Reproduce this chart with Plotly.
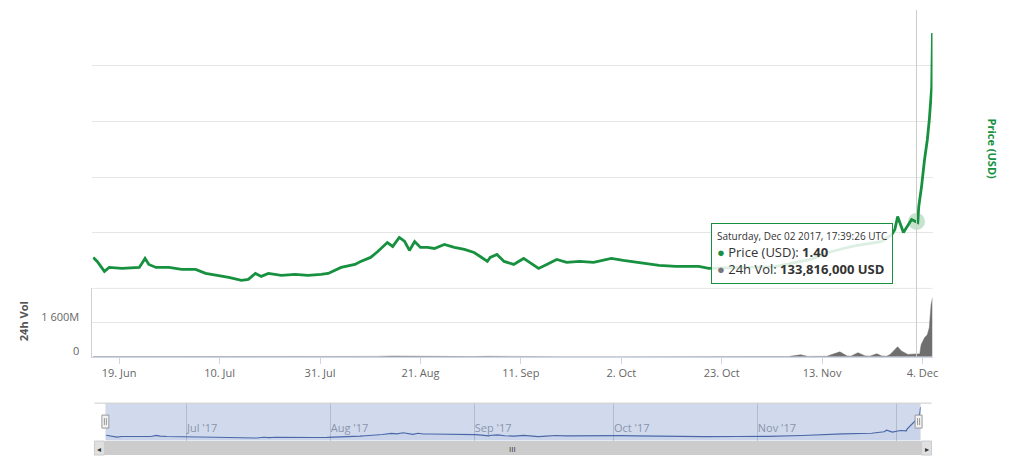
import plotly.graph_objects as go

# ---------------- data ----------------
price_dates = [
    "2017-06-13 14:00", "2017-06-14 10:00", "2017-06-15 22:00", "2017-06-16 22:00",
    "2017-06-19 14:00", "2017-06-23 05:00", "2017-06-24 10:00", "2017-06-25 05:00",
    "2017-06-26 17:00", "2017-06-29 10:00", "2017-07-02 02:00", "2017-07-05 00:00",
    "2017-07-07 02:00", "2017-07-09 19:00", "2017-07-11 22:00", "2017-07-14 14:00",
    "2017-07-16 00:00", "2017-07-17 12:00", "2017-07-18 17:00", "2017-07-20 05:00",
    "2017-07-22 22:00", "2017-07-25 19:00", "2017-07-28 12:00", "2017-07-31 05:00",
    "2017-08-01 17:00", "2017-08-04 10:00", "2017-08-07 07:00", "2017-08-08 12:00",
    "2017-08-10 14:00", "2017-08-12 02:00", "2017-08-14 02:00", "2017-08-15 05:00",
    "2017-08-16 14:00", "2017-08-17 17:00", "2017-08-18 17:00", "2017-08-19 19:00",
    "2017-08-21 00:00", "2017-08-22 12:00", "2017-08-23 22:00", "2017-08-26 00:00",
    "2017-08-28 02:00", "2017-08-30 05:00", "2017-09-01 05:00", "2017-09-02 12:00",
    "2017-09-04 00:00", "2017-09-04 14:00", "2017-09-06 00:00", "2017-09-07 12:00",
    "2017-09-09 12:00", "2017-09-11 14:00", "2017-09-12 22:00", "2017-09-14 17:00",
    "2017-09-16 10:00", "2017-09-18 12:00", "2017-09-20 14:00", "2017-09-23 07:00",
    "2017-09-26 05:00", "2017-09-29 22:00", "2017-10-02 10:00", "2017-10-05 17:00",
    "2017-10-09 22:00", "2017-10-13 10:00", "2017-10-18 05:00", "2017-10-20 07:00",
    "2017-10-27 10:00", "2017-11-03 05:00", "2017-11-10 14:00", "2017-11-14 05:00",
    "2017-11-19 05:00", "2017-11-25 12:00", "2017-11-27 14:00", "2017-11-28 05:00",
    "2017-11-28 19:00", "2017-11-30 00:00", "2017-12-01 17:00", "2017-12-02 17:39",
    "2017-12-03 00:00", "2017-12-03 05:00", "2017-12-03 19:00", "2017-12-04 10:00",
    "2017-12-05 00:00", "2017-12-05 10:00", "2017-12-05 22:00", "2017-12-06 02:00",
]
price_usd = [
    0.756, 0.684, 0.505, 0.576,
    0.558, 0.576, 0.738, 0.630,
    0.576, 0.576, 0.541, 0.541,
    0.469, 0.433, 0.397, 0.343,
    0.361, 0.469, 0.415, 0.469,
    0.433, 0.451, 0.433, 0.451,
    0.469, 0.576, 0.630, 0.684,
    0.756, 0.863, 1.024, 0.953,
    1.114, 1.042, 0.881, 1.042,
    0.935, 0.935, 0.917, 0.989,
    0.935, 0.899, 0.845, 0.773,
    0.684, 0.756, 0.809, 0.684,
    0.630, 0.738, 0.666, 0.558,
    0.630, 0.720, 0.666, 0.684,
    0.666, 0.738, 0.702, 0.666,
    0.612, 0.594, 0.594, 0.558,
    0.576, 0.590, 0.720, 0.845,
    0.953, 1.042, 1.168, 1.257,
    1.490, 1.204, 1.437, 1.400,
    1.383, 1.670, 2.028, 2.512,
    2.870, 3.229, 3.820, 4.788,
]

vol_dates = [
    "2017-06-13 12:00", "2017-06-20", "2017-06-27", "2017-07-05", "2017-07-15",
    "2017-07-25", "2017-08-05", "2017-08-12", "2017-08-15", "2017-08-18",
    "2017-08-25", "2017-09-01", "2017-09-04", "2017-09-10", "2017-09-20",
    "2017-10-01", "2017-10-15", "2017-10-25", "2017-11-01", "2017-11-06",
    "2017-11-08 12:00", "2017-11-10", "2017-11-14", "2017-11-16 17:00", "2017-11-18 05:00",
    "2017-11-19", "2017-11-20 12:00", "2017-11-22", "2017-11-23", "2017-11-24 10:00",
    "2017-11-25 12:00", "2017-11-26 12:00", "2017-11-27 05:00", "2017-11-28 19:00",
    "2017-11-29 14:00", "2017-11-30 22:00", "2017-12-02 17:39", "2017-12-03 10:00",
    "2017-12-03 17:00", "2017-12-04 10:00", "2017-12-05 00:00", "2017-12-05 10:00",
    "2017-12-05 19:00", "2017-12-06 02:00",
]
vol_usd = [
    8e6, 6e6, 5e6, 4e6, 5e6,
    4e6, 6e6, 15e6, 30e6, 20e6,
    8e6, 6e6, 20e6, 8e6, 5e6,
    4e6, 4e6, 5e6, 6e6, 10e6,
    90e6, 15e6, 20e6, 230e6, 40e6,
    25e6, 190e6, 40e6, 25e6, 140e6,
    30e6, 25e6, 100e6, 470e6,
    265e6, 110e6, 133.816e6, 130e6,
    565e6, 895e6, 1035e6, 1365e6,
    2450e6, 2775e6,
]

x_tick_dates = ["2017-06-19", "2017-07-10", "2017-07-31", "2017-08-21", "2017-09-11",
                "2017-10-02", "2017-10-23", "2017-11-13", "2017-12-04"]
x_tick_labels = ["19. Jun", "10. Jul", "31. Jul", "21. Aug", "11. Sep",
                 "2. Oct", "23. Oct", "13. Nov", "4. Dec"]
nav_tick_dates = ["2017-07-01", "2017-08-01", "2017-09-01", "2017-10-01", "2017-11-01", "2017-12-01"]
nav_tick_labels = ["Jul '17", "Aug '17", "Sep '17", "Oct '17", "Nov '17", "Dec '17"]
vol_tick_vals = [0, 1600e6]
vol_tick_labels = ["0", "1 600M"]

hover_date = "2017-12-02 17:39:26"
hover_price = 1.40
hover_vol = 133816000

# ---------------- style ----------------
W, H = 1024, 466
GREEN = "#17913f"
FONT = "Open Sans"
X_RANGE = ["2017-06-13 10:00", "2017-12-06 02:00"]


def px(x):
    return x / W


def py(y):
    return 1 - y / H


fig = go.Figure()

fig.add_trace(go.Scatter(x=price_dates, y=price_usd, mode="lines",
                         line=dict(color=GREEN, width=2.8), xaxis="x", yaxis="y",
                         hoverinfo="skip", showlegend=False))
fig.add_trace(go.Scatter(x=[hover_date], y=[hover_price], mode="markers",
                         marker=dict(size=17, color="rgba(23,145,63,0.25)"),
                         xaxis="x", yaxis="y", hoverinfo="skip", showlegend=False))
fig.add_trace(go.Scatter(x=vol_dates, y=vol_usd, mode="lines",
                         line=dict(color="#6a6a6a", width=0.5), fill="tozeroy",
                         fillcolor="#6f6f6f", xaxis="x2", yaxis="y2",
                         hoverinfo="skip", showlegend=False))
fig.add_trace(go.Scatter(x=price_dates, y=price_usd, mode="lines",
                         line=dict(color="#4a68a8", width=1.2), fill="tozeroy",
                         fillcolor="rgba(51,92,173,0.05)", xaxis="x3", yaxis="y3",
                         hoverinfo="skip", showlegend=False))

x_dom = [px(93), px(938)]
price_dom = [py(289), py(10)]
vol_dom = [py(357.5), py(289)]
nav_dom = [py(441.5), py(404)]

fig.update_layout(
    width=W, height=H, margin=dict(l=0, r=0, t=0, b=0),
    paper_bgcolor="white", plot_bgcolor="rgba(0,0,0,0)",
    font=dict(family=FONT, color="#666666", size=11),
    showlegend=False, hovermode=False,
    xaxis=dict(domain=x_dom, range=X_RANGE, type="date", anchor="y",
               showticklabels=False, showgrid=False, zeroline=False, showline=False),
    yaxis=dict(domain=price_dom, range=[0.2, 5.2], tick0=0.2, dtick=1, anchor="x",
               showticklabels=False, showgrid=True, gridcolor="#e6e6e6",
               zeroline=False, showline=False),
    xaxis2=dict(domain=x_dom, range=X_RANGE, type="date", anchor="y2",
                tickvals=x_tick_dates, ticktext=x_tick_labels,
                showgrid=False, zeroline=False, showline=True, linecolor="#ccd6eb",
                ticks="outside", ticklen=6, tickcolor="#ccd6eb",
                tickfont=dict(color="#666666", size=11, family=FONT)),
    yaxis2=dict(domain=vol_dom, range=[0, 3224e6], anchor="x2",
                tickvals=vol_tick_vals, ticktext=vol_tick_labels,
                showgrid=True, gridcolor="#e6e6e6", zeroline=False,
                showline=True, linecolor="#d0d0d0",
                ticklabelstandoff=10, ticklabelshift=-6,
                tickfont=dict(color="#666666", size=11, family=FONT)),
    xaxis3=dict(domain=[px(106), px(926)], range=X_RANGE, type="date", anchor="y3",
                tickvals=nav_tick_dates, ticktext=nav_tick_labels,
                ticklabelposition="inside right", ticks="",
                showgrid=True, gridcolor="rgba(140,150,170,0.45)", zeroline=False,
                showline=False,
                tickfont=dict(color="#8a94ab", size=11, family=FONT)),
    yaxis3=dict(domain=nav_dom, range=[0, 5.35], anchor="x3",
                showticklabels=False, showgrid=False, zeroline=False, showline=False),
)

shapes = [
    dict(type="line", xref="paper", yref="paper", x0=x_dom[0], x1=x_dom[1],
         y0=py(289), y1=py(289), line=dict(color="#e6e6e6", width=1)),
    dict(type="line", xref="x", yref="paper", x0=hover_date, x1=hover_date,
         y0=vol_dom[0], y1=price_dom[1], line=dict(color="#cccccc", width=1)),
    dict(type="rect", xref="x3 domain", yref="y3 domain", x0=0, x1=1, y0=0, y1=1,
         fillcolor="rgba(102,133,194,0.3)", line=dict(width=0), layer="below"),
    dict(type="line", xref="paper", yref="paper", x0=px(95), x1=px(937),
         y0=py(404), y1=py(404), line=dict(color="#cccccc", width=1)),
    dict(type="rect", xref="paper", yref="paper", x0=px(95), x1=px(937),
         y0=py(456), y1=py(442), fillcolor="#cccccc", line=dict(width=0)),
    dict(type="rect", xref="paper", yref="paper", x0=px(95), x1=px(105),
         y0=py(456), y1=py(442), fillcolor="#e0e0e0", line=dict(color="#cccccc", width=1)),
    dict(type="rect", xref="paper", yref="paper", x0=px(927), x1=px(937),
         y0=py(456), y1=py(442), fillcolor="#e0e0e0", line=dict(color="#cccccc", width=1)),
]
for hx in (106, 924):
    shapes.append(dict(type="rect", xref="paper", yref="paper",
                       x0=px(hx - 3.5), x1=px(hx + 3.5), y0=py(429), y1=py(416),
                       fillcolor="#f2f2f2", line=dict(color="#999999", width=1)))
    for dx in (-1, 1):
        shapes.append(dict(type="line", xref="paper", yref="paper",
                           x0=px(hx + dx), x1=px(hx + dx), y0=py(426), y1=py(419),
                           line=dict(color="#999999", width=1)))
fig.update_layout(shapes=shapes)

tooltip_text = (
    '<span style="font-size:10px">Saturday, Dec 02 2017, 17:39:26 UTC</span><br>'
    f'<span style="color:{GREEN}">●</span> Price (USD): <b>{hover_price:.2f}</b><br>'
    f'<span style="color:#777777">●</span> 24h Vol: <b>{hover_vol:,} USD</b>'
)

annotations = [
    dict(text="Price (USD)", xref="paper", yref="paper", x=px(998), y=py(149),
         xanchor="center", yanchor="middle", showarrow=False, textangle=90,
         font=dict(color=GREEN, size=11, family=FONT, weight="bold")),
    dict(text="24h Vol", xref="paper", yref="paper", x=px(23), y=py(322),
         xanchor="center", yanchor="middle", showarrow=False, textangle=-90,
         font=dict(color="#555555", size=11, family=FONT, weight="bold")),
    dict(text=tooltip_text, xref="paper", yref="paper", x=px(715), y=py(223),
         xanchor="left", yanchor="top", align="left", showarrow=False,
         bgcolor="rgba(255,255,255,0.85)", bordercolor=GREEN, borderwidth=1,
         borderpad=5, font=dict(color="#333333", size=13, family=FONT)),
    dict(text="◂", xref="paper", yref="paper", x=px(100), y=py(449), showarrow=False,
         xanchor="center", yanchor="middle", font=dict(color="#333333", size=8)),
    dict(text="▸", xref="paper", yref="paper", x=px(932), y=py(449), showarrow=False,
         xanchor="center", yanchor="middle", font=dict(color="#333333", size=8)),
    dict(text="III", xref="paper", yref="paper", x=px(516), y=py(449), showarrow=False,
         xanchor="center", yanchor="middle", font=dict(color="#333333", size=8)),
]
fig.update_layout(annotations=annotations)

fig.write_html(
    "out.html",
    config={"displayModeBar": False, "staticPlot": True},
    post_script="document.body.style.margin='0';document.body.style.overflow='hidden';",
)
